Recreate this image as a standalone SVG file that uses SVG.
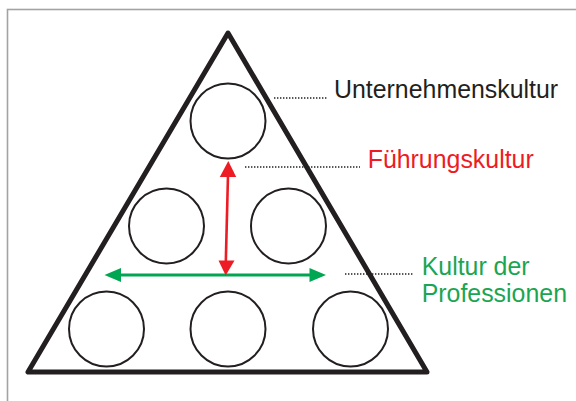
<svg xmlns="http://www.w3.org/2000/svg" width="576" height="401" viewBox="0 0 576 401">
<style>
.circ{fill:none;stroke:#231f20;stroke-width:2}
.dot{fill:none;stroke:#231f20;stroke-width:1.5;stroke-dasharray:1.4 1.6}
.lbl{font-family:"Liberation Sans",Arial,sans-serif;font-size:24.9px}
</style>
<rect x="7.5" y="9.5" width="580" height="400" fill="#fff" stroke="#a3a3a3" stroke-width="1.6"/>
<g id="pyramid">
<polygon points="228,33 28,372 427,372" fill="none" stroke="#231f20" stroke-width="5" stroke-linejoin="round"/>
</g>
<g id="c-top"><circle class="circ" cx="228" cy="121" r="37.5"/></g>
<g id="c-mid-left"><circle class="circ" cx="166.5" cy="226" r="37.5"/></g>
<g id="c-mid-right"><circle class="circ" cx="288.5" cy="226" r="37.5"/></g>
<g id="c-bot-left"><circle class="circ" cx="106.5" cy="329" r="37.5"/></g>
<g id="c-bot-mid"><circle class="circ" cx="228" cy="329" r="37.5"/></g>
<g id="c-bot-right"><circle class="circ" cx="350.5" cy="329" r="37.5"/></g>
<g id="connectors">
<line x1="120" y1="275" x2="311" y2="275" stroke="#00a651" stroke-width="3"/>
<polygon points="104.5,275 121,268 121,282" fill="#00a651"/>
<polygon points="326,275 309.5,268 309.5,282" fill="#00a651"/>
<line x1="228" y1="175" x2="225.8" y2="262" stroke="#ed1c24" stroke-width="2.6"/>
<polygon points="228.3,161 219.8,177 236.2,177" fill="#ed1c24"/>
<polygon points="225.7,275.5 218.5,260.5 234.5,260.5" fill="#ed1c24"/>
<line class="dot" x1="274" y1="98" x2="327" y2="98"/>
<line class="dot" x1="245" y1="167" x2="360" y2="167"/>
<line class="dot" x1="345" y1="274" x2="414" y2="274"/>
</g>
<g id="label-unternehmen"><text class="lbl" x="334" y="98.3" fill="#231f20">Unternehmenskultur</text></g>
<g id="label-fuehrung"><text class="lbl" x="367.7" y="167.7" fill="#ed1c24">Führungskultur</text></g>
<g id="label-professionen"><text class="lbl" x="421.7" y="275.3" fill="#1ba552">Kultur der<tspan x="421.7" y="302">Professionen</tspan></text></g>
</svg>
